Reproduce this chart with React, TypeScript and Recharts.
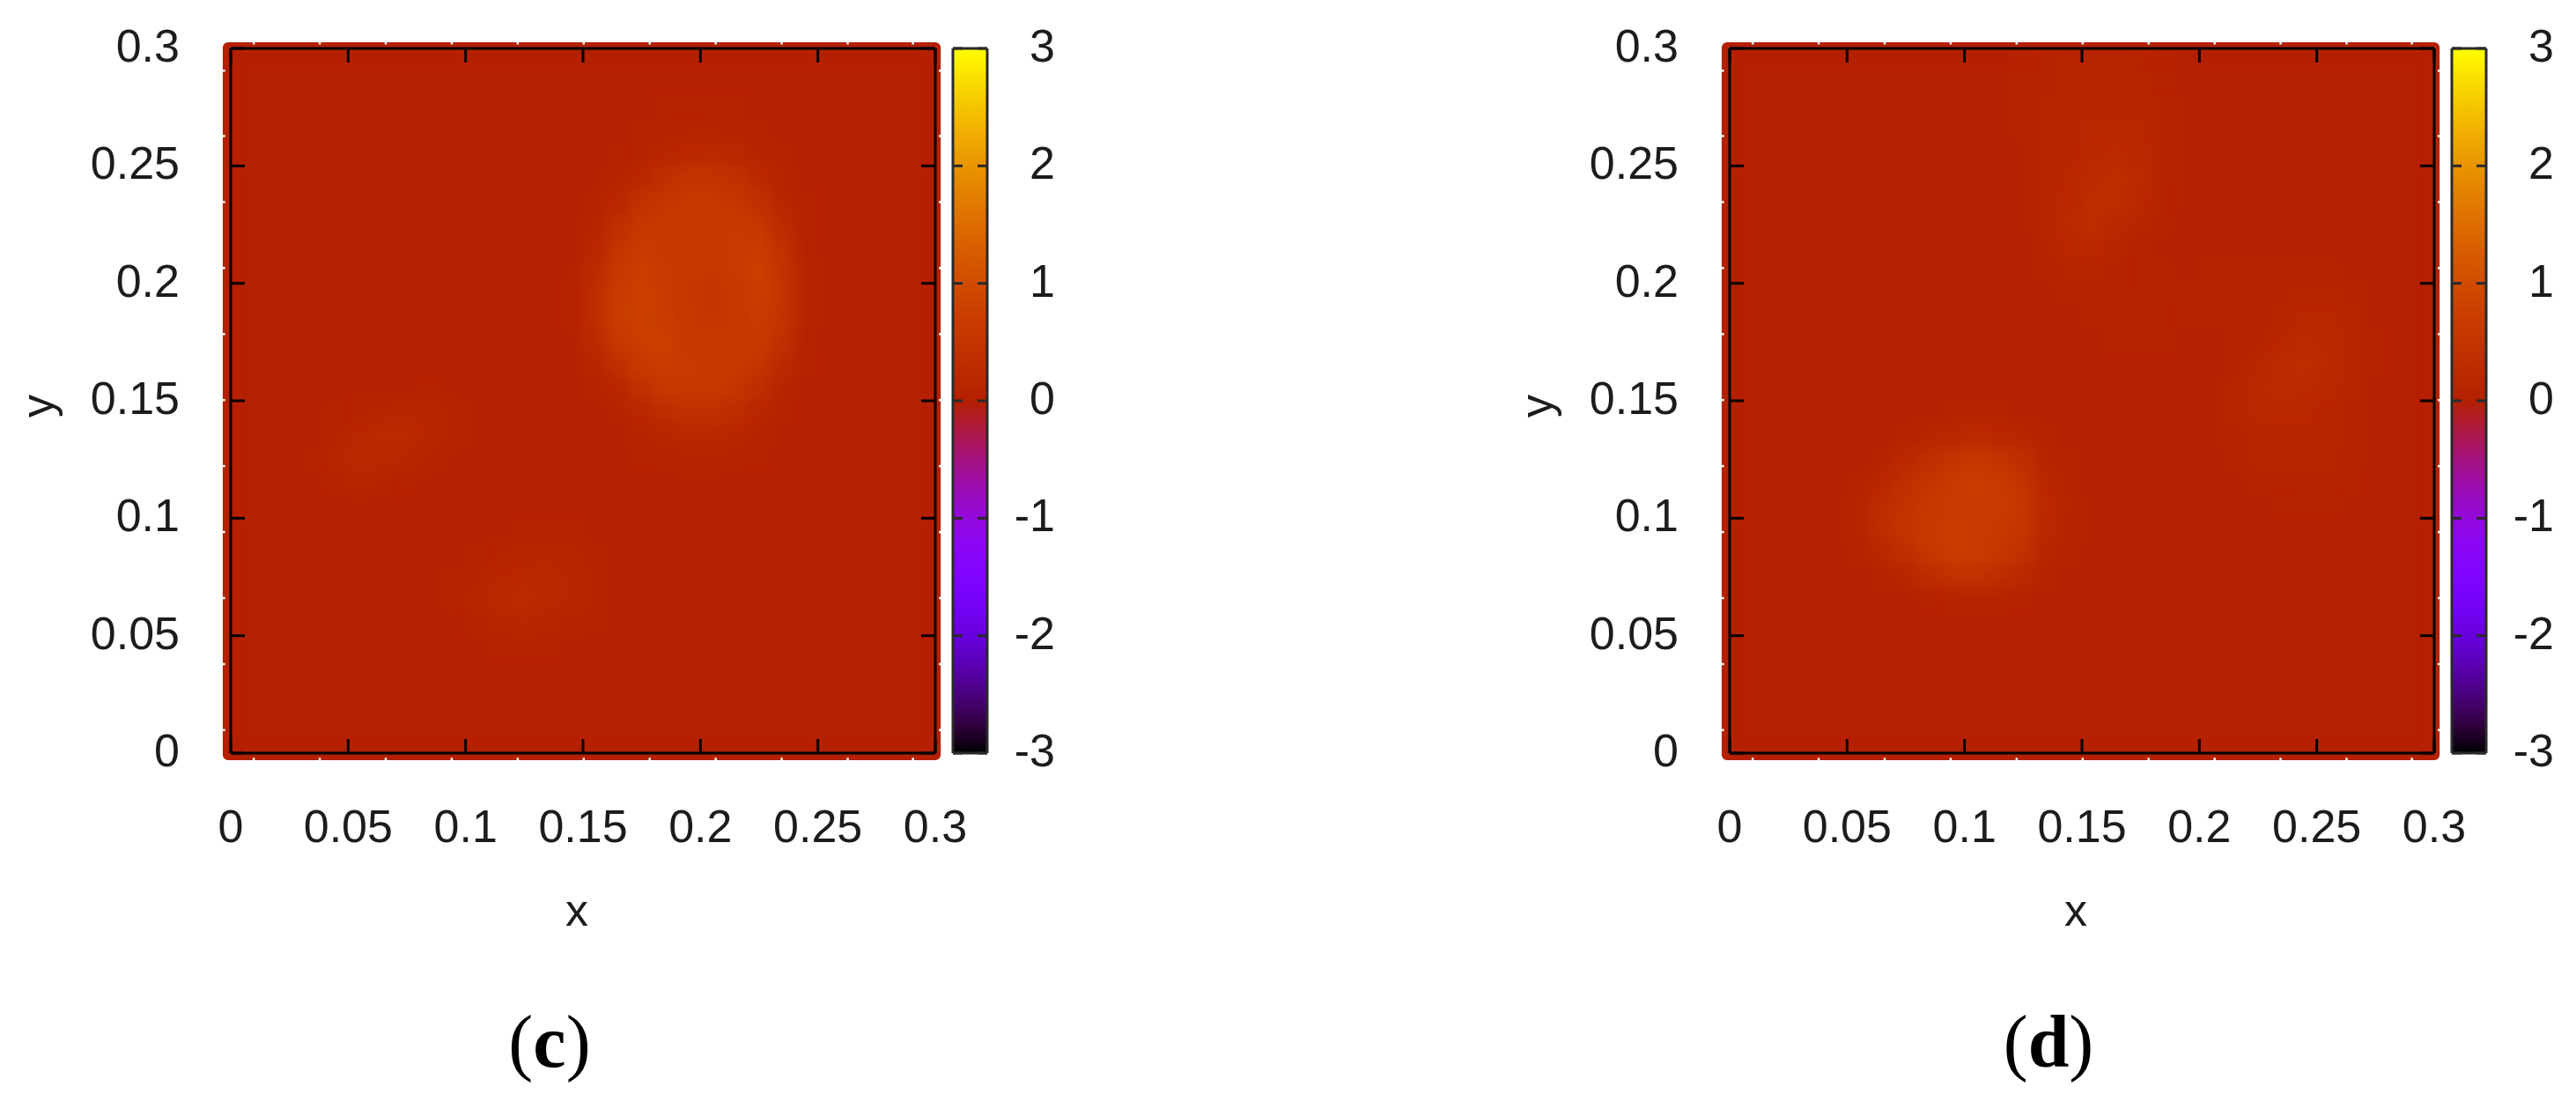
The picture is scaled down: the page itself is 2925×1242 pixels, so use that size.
import React from "react";
import {
  Bar,
  ComposedChart,
  ReferenceArea,
  ReferenceLine,
  Scatter,
  ScatterChart,
  XAxis,
  YAxis,
} from "recharts";

// axis ticks
const XY_TICKS = [0, 0.05, 0.1, 0.15, 0.2, 0.25, 0.3];
const CB_TICKS = [-3, -2, -1, 0, 1, 2, 3];
const CB_LEVELS = [3, 2.75, 2.5, 2.25, 2, 1.75, 1.5, 1.25, 1, 0.75, 0.5, 0.25, 0, -0.1, -0.25, -0.5, -0.75, -1, -1.25, -1.5, -1.75, -2, -2.25, -2.5, -2.75, -3];
const CB_RANGE = [{ name: "cb", range: [-3, 3] }];
// two corners, only there to tie the top and right axes to a series
const FRAME_CORNERS = [{ x: 0, y: 0 }, { x: 0.3, y: 0.3 }];
// small gaps in the outer edge of the surface
const EDGE_NICKS = [0.0098, 0.0379, 0.066, 0.0941, 0.1222, 0.1503, 0.1784, 0.2065, 0.2346, 0.2627, 0.2905];

// field values, in hundredths; row 0 is the top, 30 x 30 cells
const HEAT_C = [
  [1,1,1,1,1,1,1,1,1,1,1,1,1,1,1,1,1,1,1,1,1,1,1,1,1,1,1,1,1,1],
  [1,1,1,1,1,1,1,1,1,1,1,1,1,1,1,1,1,1,1,1,1,1,1,1,1,1,1,1,1,1],
  [1,1,1,1,1,1,1,1,1,1,1,1,1,1,1,1,2,3,4,5,5,4,3,2,1,1,1,1,1,1],
  [1,1,1,1,1,1,1,1,1,1,1,1,1,1,1,2,3,5,7,8,9,7,5,3,1,1,1,1,1,1],
  [1,1,1,1,1,1,1,1,1,1,1,1,1,1,1,2,4,8,16,22,24,20,10,4,2,1,1,1,1,1],
  [1,1,1,1,1,1,1,1,1,1,1,1,1,1,1,3,8,20,40,50,52,44,24,8,3,1,1,1,1,1],
  [1,1,1,1,1,1,1,1,1,1,1,1,1,1,1,4,18,44,56,60,60,56,42,14,4,1,1,1,1,1],
  [1,1,1,1,1,1,1,1,1,1,1,1,1,1,2,8,38,58,62,62,62,64,58,30,5,1,1,1,1,1],
  [1,1,1,1,1,1,1,1,1,1,1,1,1,1,2,16,52,68,64,60,60,66,70,44,7,1,1,1,1,1],
  [1,1,1,1,1,1,1,1,1,1,1,1,1,1,3,26,62,72,66,58,58,66,74,52,9,1,1,1,1,1],
  [1,1,1,1,1,1,1,1,1,1,1,1,1,1,4,32,68,74,68,58,54,60,72,54,10,1,1,1,1,1],
  [1,1,1,1,1,1,1,1,1,1,1,1,1,1,4,32,70,74,70,58,56,58,68,50,9,1,1,1,1,1],
  [1,1,1,1,1,1,1,1,1,1,1,1,1,1,3,24,62,72,72,62,60,60,64,42,6,1,1,1,1,1],
  [1,1,1,1,1,1,1,1,1,1,1,1,1,1,2,12,42,64,70,66,62,60,56,24,4,1,1,1,1,1],
  [1,1,1,1,1,2,3,3,4,3,1,1,1,1,1,5,18,44,60,62,62,56,36,10,2,1,1,1,1,1],
  [1,1,1,2,4,8,13,16,15,9,2,1,1,1,1,2,6,18,36,44,44,34,16,5,1,1,1,1,1,1],
  [1,1,1,3,10,18,26,25,16,8,2,1,1,1,1,1,3,8,14,20,20,16,8,3,1,1,1,1,1,1],
  [1,1,1,4,13,20,20,14,8,3,1,1,1,1,1,1,2,4,6,8,8,6,4,2,1,1,1,1,1,1],
  [1,1,1,3,8,11,8,4,2,1,1,1,1,1,1,1,1,1,1,1,1,1,1,1,1,1,1,1,1,1],
  [1,1,1,1,2,3,2,1,1,1,1,1,1,1,1,1,1,1,1,1,1,1,1,1,1,1,1,1,1,1],
  [1,1,1,1,1,1,1,1,1,1,2,3,5,5,4,2,1,1,1,1,1,1,1,1,1,1,1,1,1,1],
  [1,1,1,1,1,1,1,1,1,2,4,8,13,14,11,6,1,1,1,1,1,1,1,1,1,1,1,1,1,1],
  [1,1,1,1,1,1,1,1,1,4,9,18,22,20,15,9,3,1,1,1,1,1,1,1,1,1,1,1,1,1],
  [1,1,1,1,1,1,1,1,1,5,12,23,28,20,14,9,3,1,1,1,1,1,1,1,1,1,1,1,1,1],
  [1,1,1,1,1,1,1,1,1,3,8,14,15,12,8,5,2,1,1,1,1,1,1,1,1,1,1,1,1,1],
  [1,1,1,1,1,1,1,1,1,1,3,5,5,4,3,2,1,1,1,1,1,1,1,1,1,1,1,1,1,1],
  [1,1,1,1,1,1,1,1,1,1,1,1,1,1,1,1,1,1,1,1,1,1,1,1,1,1,1,1,1,1],
  [1,1,1,1,1,1,1,1,1,1,1,1,1,1,1,1,1,1,1,1,1,1,1,1,1,1,1,1,1,1],
  [1,1,1,1,1,1,1,1,1,1,1,1,1,1,1,1,1,1,1,1,1,1,1,1,1,1,1,1,1,1],
  [1,1,1,1,1,1,1,1,1,1,1,1,1,1,1,1,1,1,1,1,1,1,1,1,1,1,1,1,1,1],
];

const HEAT_D = [
  [1,1,1,1,1,1,1,1,1,1,1,1,5,9,12,13,13,10,5,2,1,1,1,1,1,1,1,1,1,1],
  [1,1,1,1,1,1,1,1,1,1,1,1,5,9,13,14,14,12,5,2,1,1,1,1,1,1,1,1,1,1],
  [1,1,1,1,1,1,1,1,1,1,1,1,4,12,14,16,16,16,8,2,1,1,1,1,1,1,1,1,1,1],
  [1,1,1,1,1,1,1,1,1,1,1,1,4,11,14,18,18,17,8,2,1,1,1,1,1,1,1,1,1,1],
  [1,1,1,1,1,1,1,1,1,1,1,1,3,11,15,22,25,22,10,3,1,1,1,1,1,1,1,1,1,1],
  [1,1,1,1,1,1,1,1,1,1,1,1,3,11,18,28,33,26,10,2,1,1,1,1,1,1,1,1,1,1],
  [1,1,1,1,1,1,1,1,1,1,1,1,3,11,22,33,34,21,8,1,1,1,1,1,1,1,1,1,1,1],
  [1,1,1,1,1,1,1,1,1,1,1,1,3,13,25,33,22,14,7,1,1,1,1,1,1,1,1,1,1,1],
  [1,1,1,1,1,1,1,1,1,1,1,1,3,8,19,21,12,5,3,1,1,1,1,1,1,1,1,1,1,1],
  [1,1,1,1,1,1,1,1,1,1,1,1,2,7,12,12,8,5,4,3,4,5,5,5,5,4,3,1,1,1],
  [1,1,1,1,1,1,1,1,1,1,1,1,1,3,5,7,7,7,7,5,5,5,7,8,11,11,8,3,1,1],
  [1,1,1,1,1,1,1,1,1,1,1,1,1,1,3,5,8,8,8,5,4,4,7,12,18,19,12,3,1,1],
  [1,1,1,1,1,1,1,1,1,1,1,1,1,1,1,3,4,4,4,3,3,4,8,18,25,24,14,4,1,1],
  [1,1,1,1,1,1,1,1,1,1,1,1,1,1,1,1,1,1,1,1,3,7,17,28,33,25,14,4,1,1],
  [1,1,1,1,1,1,1,1,1,1,1,1,1,1,1,1,1,1,1,1,3,11,22,29,26,19,11,3,1,1],
  [1,1,1,1,1,1,2,3,3,4,4,4,3,2,1,1,1,1,1,1,3,11,17,19,18,15,10,3,1,1],
  [1,1,1,1,1,2,3,6,12,20,26,22,12,5,2,1,1,1,1,1,3,8,14,15,15,14,8,3,1,1],
  [1,1,1,1,1,3,6,22,38,50,58,50,36,10,4,2,1,1,1,1,1,5,11,12,12,12,7,3,1,1],
  [1,1,1,1,2,5,18,40,54,64,72,64,50,18,6,2,1,1,1,1,1,3,7,8,10,10,5,1,1,1],
  [1,1,1,1,2,10,32,48,60,66,68,66,58,22,8,3,1,1,1,1,1,1,3,4,4,4,3,1,1,1],
  [1,1,1,1,2,10,34,50,64,70,68,62,54,20,8,3,1,1,1,1,1,1,1,1,1,1,1,1,1,1],
  [1,1,1,1,2,5,20,38,58,70,68,58,44,12,6,2,1,1,1,1,1,1,1,1,1,1,1,1,1,1],
  [1,1,1,1,1,2,5,14,32,44,46,36,20,6,3,2,1,1,1,1,1,1,1,1,1,1,1,1,1,1],
  [1,1,1,1,1,1,2,3,5,8,9,7,4,2,1,1,1,1,1,1,1,1,1,1,1,1,1,1,1,1],
  [1,1,1,1,1,1,1,1,1,1,1,1,1,1,1,1,1,1,1,1,1,1,1,1,1,1,1,1,1,1],
  [1,1,1,1,1,1,1,1,1,1,1,1,1,1,1,1,1,1,1,1,1,1,1,1,1,1,1,1,1,1],
  [1,1,1,1,1,1,1,1,1,1,1,1,1,1,1,1,1,1,1,1,1,1,1,1,1,1,1,1,1,1],
  [1,1,1,1,1,1,1,1,1,1,1,1,1,1,1,1,1,1,1,1,1,1,1,1,1,1,1,1,1,1],
  [1,1,1,1,1,1,1,1,1,1,1,1,1,1,1,1,1,1,1,1,1,1,1,1,1,1,1,1,1,1],
  [1,1,1,1,1,1,1,1,1,1,1,1,1,1,1,1,1,1,1,1,1,1,1,1,1,1,1,1,1,1],
];

const FONT = '"Liberation Sans", Arial, sans-serif';
const TEXT_COLOR = "#1c1c1c";
const FONT_SIZE = 52;
const CELL = 800 / 30;

// gnuplot's default pm3d palette (rgbformulae 7,5,15) over cbrange -3..3
function paletteColor(v: number) {
  const g = (v + 3) / 6;
  const r = Math.round(255 * Math.sqrt(g));
  const gr = Math.round(255 * g * g * g);
  const b = Math.round(255 * Math.max(0, Math.sin(2 * Math.PI * g)));
  return `rgb(${r},${gr},${b})`;
}

function toPoints(grid: number[][]) {
  return grid.flatMap((row, r) =>
    row.map((val, c) => ({
      x: (c + 0.5) * 0.01,
      y: 0.3 - (r + 0.5) * 0.01,
      v: val / 100,
    })),
  );
}

const HeatCell = (props: any) => (
  <rect
    x={props.cx - CELL / 2 - 0.5}
    y={props.cy - CELL / 2 - 0.5}
    width={CELL + 1}
    height={CELL + 1}
    fill={paletteColor(props.payload.v)}
  />
);

const AxisText = ({ x, y, anchor, children }: any) => (
  <text x={x} y={y} textAnchor={anchor} fontFamily={FONT} fontSize={FONT_SIZE} fill={TEXT_COLOR}>
    {children}
  </text>
);

const XTick = ({ x, y, payload }: any) => (
  <AxisText x={x} y={y + 18} anchor="middle">{payload.value}</AxisText>
);
const YTick = ({ x, y, payload }: any) => (
  <AxisText x={x} y={y + 15} anchor="end">{payload.value}</AxisText>
);
// tick marks without a label, for the mirrored axes
const NoLabel = () => <g />;

function HeatPanel({ grid, left, id }: { grid: number[][]; left: number; id: string }) {
  const points = toPoints(grid);
  return (
    <div style={{ position: "absolute", left, top: 0 }}>
      <ScatterChart width={1215} height={1100} margin={{ top: 54, left: 261, right: 152, bottom: 244 }}>
        <defs>
          <filter id={id} x="0" y="0" width="1" height="1" colorInterpolationFilters="sRGB">
            <feGaussianBlur stdDeviation="8" />
          </filter>
        </defs>
        <XAxis
          type="number"
          dataKey="x"
          domain={[0, 0.3]}
          ticks={XY_TICKS}
          interval={0}
          height={1}
          tickSize={-16}
          tickMargin={99}
          tick={<XTick />}
          stroke="#000"
          strokeWidth={3}
          label={{ value: "x", position: "bottom", offset: 155, dx: -7, dy: 3, fontFamily: FONT, fontSize: FONT_SIZE, fill: TEXT_COLOR }}
        />
        <XAxis
          xAxisId="top"
          orientation="top"
          type="number"
          dataKey="x"
          domain={[0, 0.3]}
          ticks={XY_TICKS}
          interval={0}
          height={1}
          tickSize={-16}
          tick={<NoLabel />}
          stroke="#000"
          strokeWidth={3}
        />
        <YAxis
          type="number"
          dataKey="y"
          domain={[0, 0.3]}
          ticks={XY_TICKS}
          interval={0}
          width={1}
          tickSize={-16}
          tickMargin={74}
          tick={<YTick />}
          stroke="#000"
          strokeWidth={3}
          label={{ value: "y", angle: -90, position: "left", offset: 219, dy: -7, fontFamily: FONT, fontSize: FONT_SIZE, fill: TEXT_COLOR }}
        />
        <YAxis
          yAxisId="right"
          orientation="right"
          type="number"
          dataKey="y"
          domain={[0, 0.3]}
          ticks={XY_TICKS}
          interval={0}
          width={1}
          tickSize={-16}
          tick={<NoLabel />}
          stroke="#000"
          strokeWidth={3}
        />
        <ReferenceArea
          x1={-0.0034}
          x2={0.3023}
          y1={-0.003}
          y2={0.3026}
          ifOverflow="visible"
          fill={paletteColor(0)}
          fillOpacity={1}
          stroke="none"
          radius={6}
        />
        {EDGE_NICKS.map((n) => (
          <ReferenceLine key={`b${n}`} ifOverflow="visible" stroke="#fff" strokeWidth={2.5} segment={[{ x: n, y: -0.0032 }, { x: n, y: -0.002 }]} />
        ))}
        {EDGE_NICKS.map((n) => (
          <ReferenceLine key={`t${n}`} ifOverflow="visible" stroke="#fff" strokeWidth={2.5} segment={[{ x: n, y: 0.3028 }, { x: n, y: 0.3017 }]} />
        ))}
        {EDGE_NICKS.map((n) => (
          <ReferenceLine key={`l${n}`} ifOverflow="visible" stroke="#fff" strokeWidth={2.5} segment={[{ x: -0.0036, y: n }, { x: -0.0024, y: n }]} />
        ))}
        {EDGE_NICKS.map((n) => (
          <ReferenceLine key={`r${n}`} ifOverflow="visible" stroke="#fff" strokeWidth={2.5} segment={[{ x: 0.3025, y: n }, { x: 0.3015, y: n }]} />
        ))}
        <Scatter
          data={points}
          className={`heat-${id}`}
          shape={HeatCell}
          isAnimationActive={false}
          zIndex={150}
        />
        <Scatter
          data={FRAME_CORNERS}
          xAxisId="top"
          yAxisId="right"
          shape={() => <g />}
          isAnimationActive={false}
        />
      </ScatterChart>
      <style>{`.heat-${id} { filter: url(#${id}); }`}</style>
    </div>
  );
}

const CbTick = ({ x, y, payload }: any) => (
  <AxisText x={x} y={y + 15} anchor="end">{payload.value}</AxisText>
);

function ColorBar({ left, id }: { left: number; id: string }) {
  return (
    <div style={{ position: "absolute", left: left + 1070, top: 0 }}>
      <ComposedChart
        width={140}
        height={920}
        data={CB_RANGE}
        barCategoryGap={0}
        margin={{ top: 54, left: 11, right: 88, bottom: 64 }}
      >
        <defs>
          <linearGradient id={id} x1="0" y1="0" x2="0" y2="1">
            {CB_LEVELS.map((v) => (
              <stop key={v} offset={(3 - v) / 6} stopColor={paletteColor(v)} />
            ))}
          </linearGradient>
        </defs>
        <XAxis dataKey="name" height={1} tick={false} tickLine={false} stroke="#2a2a2a" strokeWidth={3} />
        <XAxis xAxisId="top" orientation="top" dataKey="name" height={1} tick={false} tickLine={false} stroke="#2a2a2a" strokeWidth={3} />
        <YAxis
          type="number"
          domain={[-3, 3]}
          ticks={CB_TICKS}
          interval={0}
          width={1}
          tickSize={-11}
          tick={<NoLabel />}
          stroke="#2a2a2a"
          strokeWidth={3}
        />
        <YAxis
          yAxisId="right"
          orientation="right"
          type="number"
          domain={[-3, 3]}
          ticks={CB_TICKS}
          interval={0}
          width={1}
          tickSize={-11}
          tickMargin={88}
          tick={<CbTick />}
          stroke="#2a2a2a"
          strokeWidth={3}
        />
        <Bar dataKey="range" xAxisId="top" yAxisId="right" fill={`url(#${id})`} isAnimationActive={false} />
        {/* invisible, keeps the left axis ticks alive */}
        <Bar dataKey="range" fill="none" isAnimationActive={false} />
      </ComposedChart>
    </div>
  );
}

const Caption = ({ left, letter }: { left: number; letter: string }) => (
  <div
    style={{
      position: "absolute",
      left: left + 424,
      width: 400,
      top: 1133,
      textAlign: "center",
      fontFamily: '"Liberation Serif", serif',
      fontSize: 84,
      lineHeight: "100px",
      color: "#000",
    }}
  >
    (<b>{letter}</b>)
  </div>
);

export default function App() {
  return (
    <div style={{ position: "absolute", left: 0, top: 0, width: 2925, height: 1242, background: "#fff", overflow: "hidden" }}>
      <HeatPanel grid={HEAT_C} left={0} id="blurC" />
      <ColorBar left={0} id="cbC" />
      <Caption left={0} letter="c" />
      <HeatPanel grid={HEAT_D} left={1702} id="blurD" />
      <ColorBar left={1702} id="cbD" />
      <Caption left={1702} letter="d" />
    </div>
  );
}
